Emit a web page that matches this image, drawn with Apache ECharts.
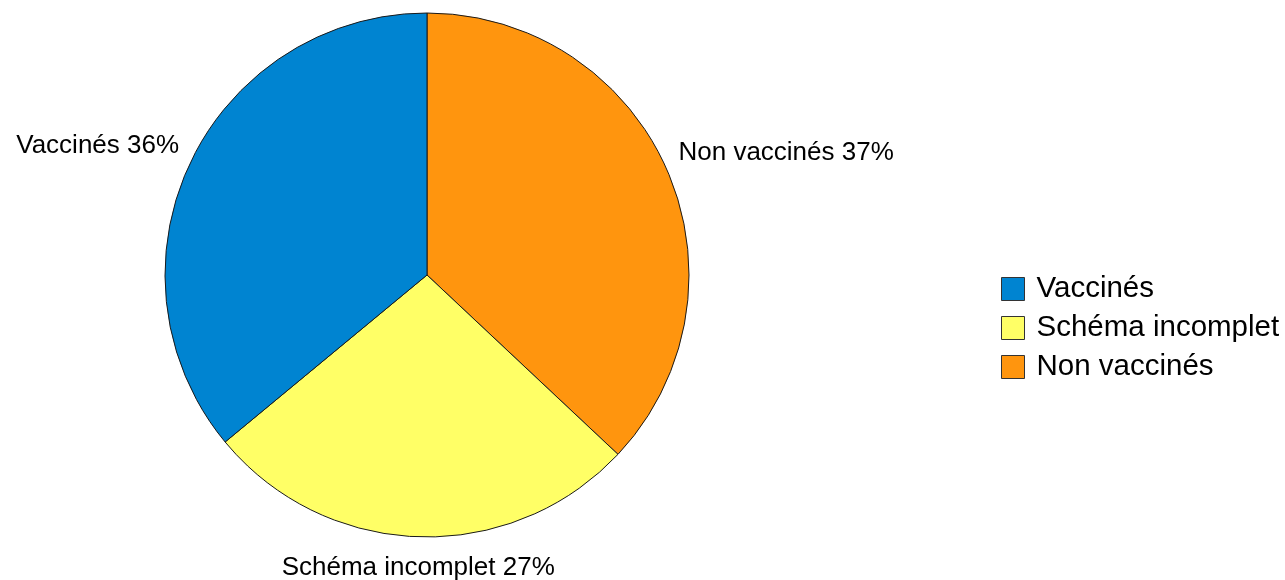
<!DOCTYPE html>
<html>
<head>
<meta charset="utf-8">
<script src="https://cdn.jsdelivr.net/npm/echarts@6/dist/echarts.min.js"></script>
<style>
  html, body { margin: 0; padding: 0; background: #ffffff; }
  #chart { width: 1285px; height: 580px; }
</style>
</head>
<body>
<div id="chart"></div>
<script>
// Slices in drawing order (clockwise from 12 o'clock)
const categories = ['Non vaccinés', 'Schéma incomplet', 'Vaccinés'];
const shares = [37, 27, 36];
const sliceColors = ['#ff950e', '#ffff66', '#0084d1'];
// Order of the entries in the legend
const legendOrder = ['Vaccinés', 'Schéma incomplet', 'Non vaccinés'];

const CX = 427, CY = 275, R = 262;
const LABEL_GAP = 12;       // distance from rim to the label's nearest corner
const LABEL_GAP_BELOW = 18; // labels hanging under the pie sit a bit lower
const FONT = '"Liberation Sans", Arial, sans-serif';

const total = shares.reduce((a, b) => a + b, 0);

// Angle (radians, clockwise from top) of the middle of slice i
function midAngle(i) {
  let before = 0;
  for (let k = 0; k < i; k++) before += shares[k];
  return (before + shares[i] / 2) / total * 2 * Math.PI;
}

const chart = echarts.init(document.getElementById('chart'), null, { renderer: 'canvas' });

const option = {
  animation: false,
  backgroundColor: '#ffffff',
  legend: {
    data: legendOrder,
    orient: 'vertical',
    left: 1001,
    top: 274,
    padding: 0,
    itemWidth: 23,
    itemHeight: 23,
    itemGap: 9,
    icon: 'rect',
    itemStyle: { borderColor: '#333333', borderWidth: 1 },
    textStyle: { fontFamily: FONT, fontSize: 29.5, lineHeight: 30, color: '#000000', padding: [0, 0, 0, 7] },
    selectedMode: false
  },
  series: [{
    type: 'pie',
    center: [CX, CY],
    radius: R,
    startAngle: 90,
    clockwise: true,
    avoidLabelOverlap: false,
    silent: true,
    data: categories.map((name, i) => ({
      name: name,
      value: shares[i],
      itemStyle: { color: sliceColors[i] }
    })),
    itemStyle: { borderColor: '#1a1a1a', borderWidth: 1 },
    label: {
      show: true,
      position: 'outside',
      formatter: '{b} {c}%',
      fontFamily: FONT,
      fontSize: 26,
      color: '#000000'
    },
    labelLine: { show: false },
    // Put each label just outside the rim, its nearest corner facing the slice
    labelLayout: function (p) {
      const a = midAngle(p.dataIndex);
      const dx = Math.sin(a), dy = -Math.cos(a);
      const below = dy > 0.2;
      const gap = below ? LABEL_GAP_BELOW : LABEL_GAP;
      return {
        x: CX + (R + gap) * dx,
        y: CY + (R + gap) * dy,
        align: dx > 0.2 ? 'left' : (dx < -0.2 ? 'right' : 'center'),
        verticalAlign: dy < -0.2 ? 'bottom' : (below ? 'top' : 'middle')
      };
    }
  }]
};

chart.setOption(option);
</script>
</body>
</html>
